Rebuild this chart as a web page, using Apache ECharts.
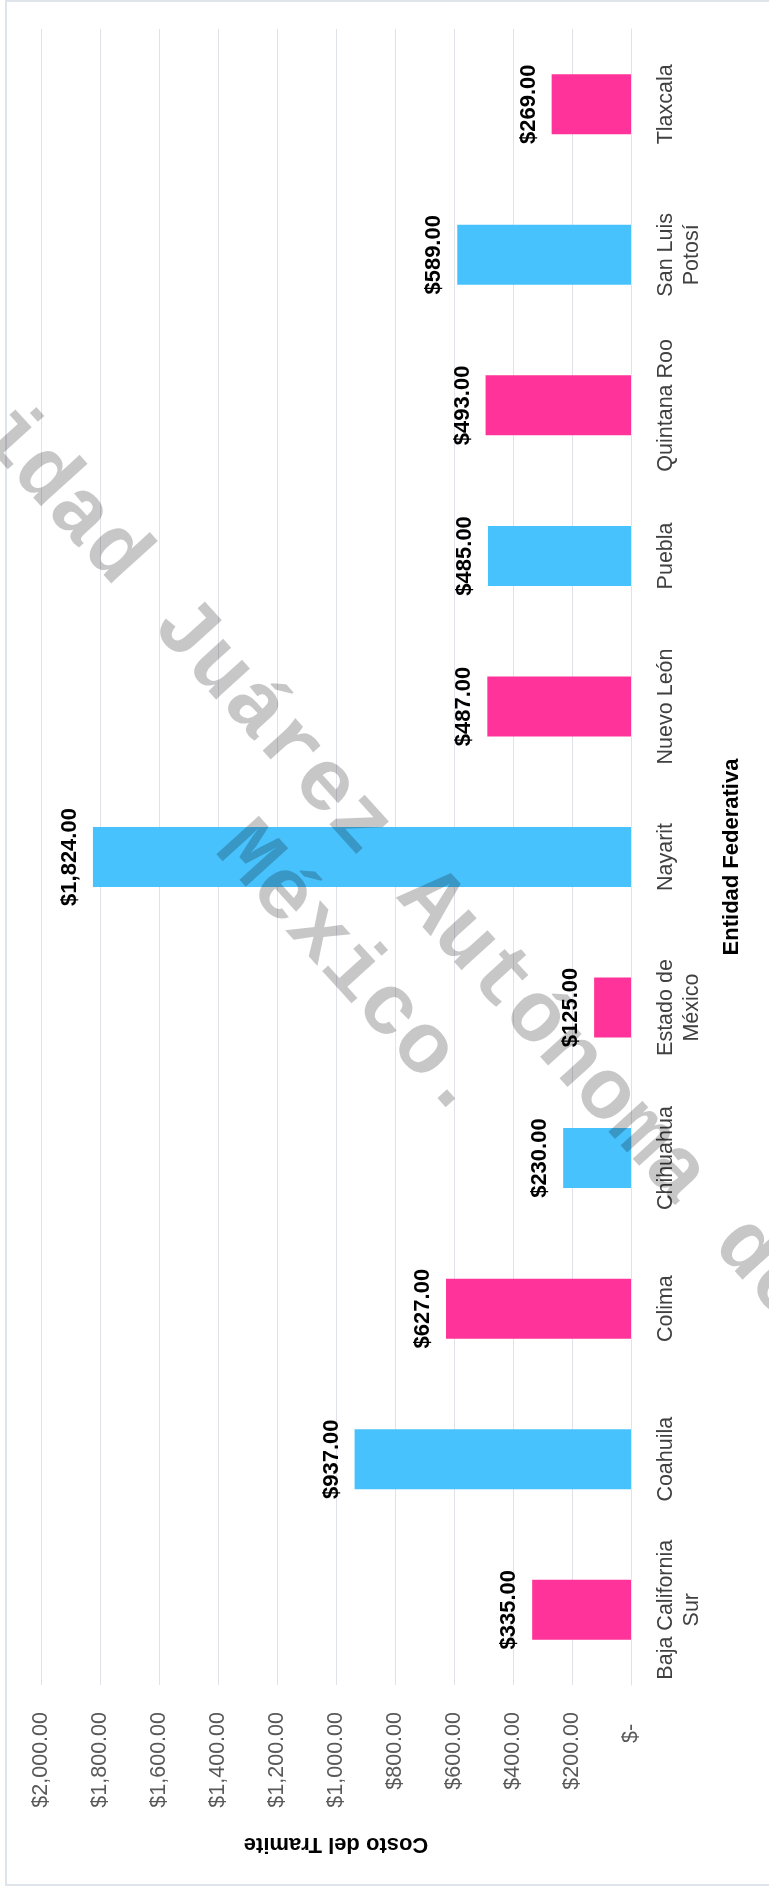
<!DOCTYPE html>
<html lang="es">
<head>
<meta charset="UTF-8">
<title>Costo del Tramite por Entidad Federativa</title>
<style>
    * { margin: 0; padding: 0; }
    body { background: #fff; }
    #chart { width: 769px; height: 1889px; }
</style>
</head>
<body>
<div id="chart"></div>
<script src="https://cdn.jsdelivr.net/npm/echarts@6/dist/echarts.min.js"></script>
<script>
    // datos (de abajo hacia arriba en la imagen)
    const entidades = ['Baja California\nSur', 'Coahuila', 'Colima', 'Chihuahua', 'Estado de\nMéxico',
        'Nayarit', 'Nuevo León', 'Puebla', 'Quintana Roo', 'San Luis\nPotosí', 'Tlaxcala'];
    const costos = [335, 937, 627, 230, 125, 1824, 487, 485, 493, 589, 269];
    const ticksCosto = [0, 200, 400, 600, 800, 1000, 1200, 1400, 1600, 1800, 2000];

    const rosa = '#ff3399';
    const azul = '#48c2fd';
    const fuente = '"Liberation Sans", Arial, sans-serif';

    const dinero = v => '$' + v.toLocaleString('en-US', { minimumFractionDigits: 2, maximumFractionDigits: 2 });

    const chart = echarts.init(document.getElementById('chart'));

    const option = {
        backgroundColor: '#fff',
        animation: false,
        textStyle: { fontFamily: fuente },
        grid: {
            left: 41, right: 138, top: 29, bottom: 204,
            containLabel: false,
            outerBoundsMode: 'none'
        },
        xAxis: {
            type: 'value',
            inverse: true,
            position: 'bottom',
            min: ticksCosto[0],
            max: ticksCosto[ticksCosto.length - 1],
            interval: ticksCosto[1] - ticksCosto[0],
            axisLine: { show: false },
            axisTick: { show: false },
            splitLine: { lineStyle: { color: '#dfe2e8', width: 1 } },
            axisLabel: {
                rotate: 90,
                margin: 27,
                fontSize: 21.5,
                color: '#595959',
                fontFamily: fuente,
                formatter: v => v === 0 ? '$-  ' : dinero(v)
            },
            name: 'Costo del Tramite',
            nameLocation: 'middle',
            nameRotate: 180,
            nameGap: 148,
            nameTextStyle: { fontSize: 22, fontWeight: 'bold', color: '#000', fontFamily: fuente }
        },
        yAxis: {
            type: 'category',
            position: 'right',
            data: entidades,
            axisLine: { show: true, lineStyle: { color: '#dfe2e8', width: 1 } },
            axisTick: { show: false },
            axisLabel: {
                interval: 0,
                rotate: 90,
                margin: 22,
                fontSize: 21.5,
                lineHeight: 26,
                color: '#404040',
                fontFamily: fuente
            },
            name: 'Entidad Federativa',
            nameLocation: 'middle',
            nameRotate: 90,
            nameGap: 90,
            nameTextStyle: { fontSize: 22, fontWeight: 'bold', color: '#000', fontFamily: fuente }
        },
        series: [{
            type: 'bar',
            barWidth: 60,
            data: costos.map((v, i) => ({
                value: v,
                itemStyle: { color: i % 2 === 0 ? rosa : azul }
            })),
            label: {
                show: true,
                position: 'left',
                rotate: 90,
                align: 'center',
                verticalAlign: 'bottom',
                distance: 12,
                fontSize: 22,
                fontWeight: 'bold',
                color: '#000',
                fontFamily: fuente,
                formatter: p => dinero(p.value)
            }
        }],
        graphic: [
            {
                // marco del grafico
                type: 'rect',
                silent: true,
                shape: { x: 6, y: 1, width: 800, height: 1884 },
                style: { fill: 'none', stroke: '#dfe3ea', lineWidth: 2 }
            },
            {
                // marca de agua
                type: 'text',
                silent: true,
                z: 100,
                x: 391,
                y: 937,
                rotation: -47.8 * Math.PI / 180,
                style: {
                    text: 'Universidad Juárez Autónoma de Tabasco,\nMéxico.',
                    font: 'bold 87px "Liberation Mono", monospace',
                    lineHeight: 104,
                    align: 'center',
                    verticalAlign: 'middle',
                    fill: 'rgba(0,0,0,0.22)'
                }
            }
        ]
    };

    chart.setOption(option);
</script>
</body>
</html>
